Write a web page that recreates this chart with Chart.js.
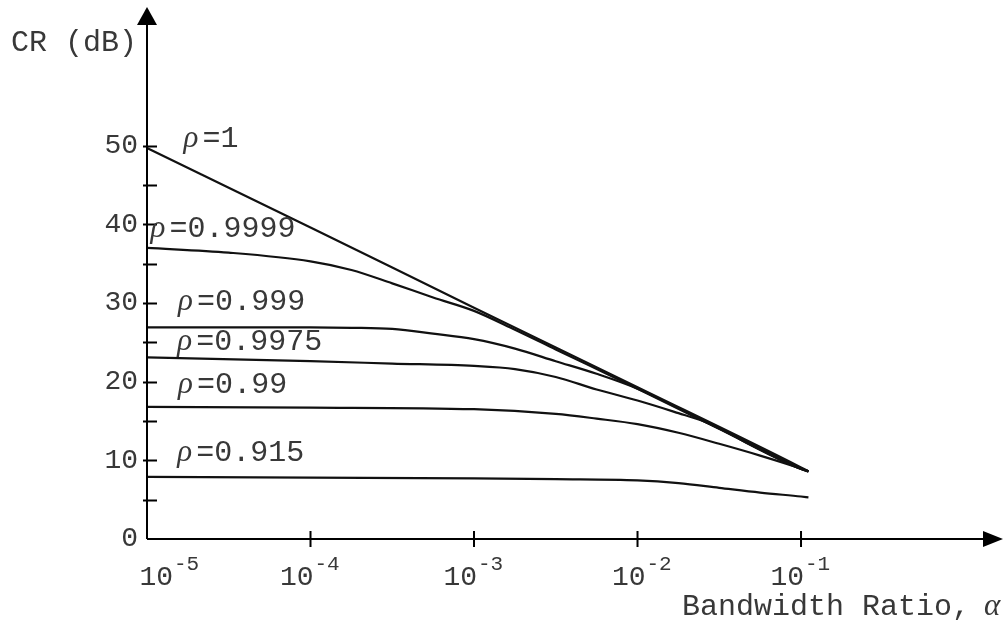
<!DOCTYPE html>
<html>
<head>
<meta charset="utf-8">
<script src="https://cdn.jsdelivr.net/npm/chart.js@4.4.1/dist/chart.umd.min.js"></script>
<style>
  html, body { margin: 0; padding: 0; background: #fff; }
  #wrap { width: 1008px; height: 621px; }
</style>
</head>
<body>
<div id="wrap"><canvas id="chart" width="1008" height="621"></canvas></div>
<script>
// axis ticks
const alphaTicks = [1e-5, 1e-4, 1e-3, 1e-2, 1e-1];
const alphaExponents = ["-5", "-4", "-3", "-2", "-1"];
const crTicks = [0, 10, 20, 30, 40, 50];

// curves (alpha, CR in dB)
const rhoNames = ["1", "0.9999", "0.999", "0.9975", "0.99", "0.915"];

const rho1Alpha = [1e-5, 1e-4, 1e-3, 1e-2, 1e-1, 0.111];
const rho1CR = [49.7, 39.6, 29.4, 19.3, 9.1, 8.6];

const rho9999Alpha = [1e-5, 3.16e-5, 1e-4, 1.78e-4, 3.16e-4, 5.62e-4, 1e-3, 1.78e-3, 3.16e-3, 1e-2, 3.16e-2, 1e-1, 0.111];
const rho9999CR = [37.0, 36.4, 35.3, 34.2, 32.5, 30.7, 29.0, 26.6, 24.1, 19.1, 14.0, 8.9, 8.6];

const rho999Alpha = [1e-5, 1e-4, 1.78e-4, 3.16e-4, 5.62e-4, 1e-3, 1.78e-3, 3.16e-3, 5.62e-3, 1e-2, 3.16e-2, 1e-1, 0.111];
const rho999CR = [26.9, 26.9, 26.85, 26.7, 26.1, 25.4, 24.2, 22.6, 21.0, 19.1, 14.0, 8.9, 8.6];

const rho9975Alpha = [1e-5, 1e-4, 3.16e-4, 1e-3, 1.78e-3, 3.16e-3, 5.62e-3, 1e-2, 1.78e-2, 2.51e-2, 3.16e-2, 1e-1, 0.111];
const rho9975CR = [23.1, 22.6, 22.3, 22.0, 21.6, 20.6, 19.0, 17.6, 16.0, 15.0, 14.1, 9.0, 8.6];

const rho99Alpha = [1e-5, 1e-4, 1e-3, 3.16e-3, 5.62e-3, 1e-2, 1.78e-2, 3.16e-2, 5.62e-2, 1e-1, 0.111];
const rho99CR = [16.8, 16.7, 16.5, 15.9, 15.3, 14.6, 13.5, 12.1, 10.6, 8.95, 8.6];

const rho915Alpha = [1e-5, 1e-4, 1e-3, 3.16e-3, 1e-2, 1.78e-2, 3.16e-2, 5.62e-2, 1e-1, 0.111];
const rho915CR = [7.9, 7.8, 7.7, 7.6, 7.45, 7.1, 6.5, 5.9, 5.4, 5.3];

const curves = [
  [rho1Alpha, rho1CR],
  [rho9999Alpha, rho9999CR],
  [rho999Alpha, rho999CR],
  [rho9975Alpha, rho9975CR],
  [rho99Alpha, rho99CR],
  [rho915Alpha, rho915CR]
];

// where each rho label sits (data coords: left edge, baseline)
const labelAnchors = [
  [1.67e-5, 49.8], [1.05e-5, 38.4], [1.55e-5, 29.1],
  [1.53e-5, 24.0], [1.55e-5, 18.6], [1.53e-5, 9.9]
];

const MONO = "'Liberation Mono', 'DejaVu Sans Mono', monospace";
const SERIF_IT = "italic 31px 'Liberation Serif', 'DejaVu Serif', serif";
const INK = "#383838";

function arrow(ctx, tip, b1, b2) {
  ctx.beginPath();
  ctx.moveTo(tip[0], tip[1]);
  ctx.lineTo(b1[0], b1[1]);
  ctx.lineTo(b2[0], b2[1]);
  ctx.closePath();
  ctx.fill();
}

const axesPlugin = {
  id: "axes",
  afterDraw(chart) {
    const { ctx, chartArea: a, scales: { x, y } } = chart;
    const x0 = x.getPixelForValue(alphaTicks[0]);
    const y0 = y.getPixelForValue(0);
    ctx.save();
    ctx.strokeStyle = "#000";
    ctx.fillStyle = "#000";
    ctx.lineWidth = 2;

    // axis lines + arrow heads
    ctx.beginPath();
    ctx.moveTo(x0, y0);
    ctx.lineTo(x0, a.top + 14);
    ctx.moveTo(x0, y0);
    ctx.lineTo(a.right - 14, y0);
    ctx.stroke();
    arrow(ctx, [x0, a.top - 1], [x0 - 10, a.top + 17], [x0 + 10, a.top + 17]);
    arrow(ctx, [a.right + 3, y0], [a.right - 17, y0 - 8], [a.right - 17, y0 + 8]);

    // y tick marks every 5 dB
    ctx.beginPath();
    for (let v = 5; v <= 50; v += 5) {
      const py = Math.round(y.getPixelForValue(v)) + 0.5;
      ctx.moveTo(x0 - 4, py);
      ctx.lineTo(x0 + 10, py);
    }
    // x tick marks at decades
    alphaTicks.slice(1).forEach(t => {
      const px = x.getPixelForValue(t);
      ctx.moveTo(px, y0 - 8);
      ctx.lineTo(px, y0 + 8);
    });
    ctx.stroke();

    ctx.fillStyle = INK;
    // y tick labels
    ctx.font = "28px " + MONO;
    ctx.textAlign = "right";
    ctx.textBaseline = "middle";
    crTicks.forEach(v => ctx.fillText(String(v), x0 - 9, y.getPixelForValue(v)));

    // x tick labels 10^n
    const shift = [26, 3, 3, 8, 3];
    ctx.textBaseline = "alphabetic";
    alphaTicks.forEach((t, i) => {
      const px = x.getPixelForValue(t) + shift[i];
      ctx.font = "28px " + MONO;
      ctx.textAlign = "right";
      ctx.fillText("10", px, y0 + 46);
      ctx.font = "21px " + MONO;
      ctx.textAlign = "left";
      ctx.fillText(alphaExponents[i], px + 1, y0 + 31);
    });

    // axis titles
    ctx.textAlign = "left";
    ctx.font = "30px " + MONO;
    ctx.fillText("CR (dB)", 11, 51);
    ctx.fillText("Bandwidth Ratio,", 682, y0 + 76);
    const w = ctx.measureText("Bandwidth Ratio, ").width;
    ctx.font = SERIF_IT;
    ctx.fillText("\u03b1", 682 + w - 4, y0 + 76);

    // rho labels
    rhoNames.forEach((name, i) => {
      const lx = x.getPixelForValue(labelAnchors[i][0]);
      const ly = y.getPixelForValue(labelAnchors[i][1]);
      ctx.font = SERIF_IT;
      ctx.fillText("\u03c1", lx, ly);
      ctx.font = "30px " + MONO;
      ctx.fillText("=" + name, lx + 19, ly);
    });
    ctx.restore();
  }
};

new Chart(document.getElementById("chart"), {
  type: "line",
  data: {
    datasets: curves.map(([al, cr], i) => ({
      label: "\u03c1=" + rhoNames[i],
      data: al.map((v, k) => ({ x: v, y: cr[k] })),
      borderColor: "#111",
      borderWidth: 2.2,
      pointRadius: 0,
      fill: false,
      cubicInterpolationMode: "monotone"
    }))
  },
  options: {
    responsive: false,
    animation: false,
    layout: { padding: { left: 147, right: 8, top: 8, bottom: 82 } },
    plugins: { legend: { display: false }, tooltip: { enabled: false } },
    scales: {
      x: { type: "logarithmic", min: 1e-5, max: 1.648, display: false },
      y: { type: "linear", min: 0, max: 67.5, display: false }
    }
  },
  plugins: [axesPlugin]
});
</script>
</body>
</html>
